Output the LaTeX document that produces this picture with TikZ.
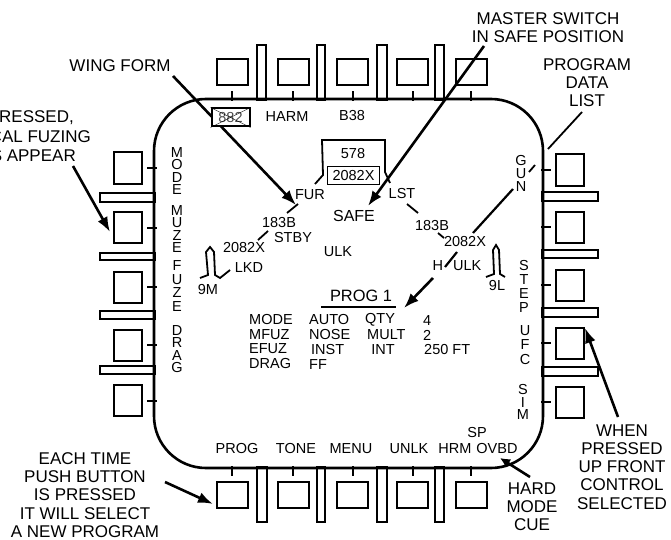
\documentclass[tikz,border=0pt]{standalone}
\usepackage{fontspec}
\setmainfont{Liberation Sans}
\usetikzlibrary{arrows.meta}
\tikzset{
    big/.style={inner sep=0pt, align=center, font=\fontsize{17}{18.2}\selectfont},
    small/.style={inner sep=0pt, font=\fontsize{14.5}{16}\selectfont},
    letters/.style={inner sep=0pt, align=center, font=\fontsize{14.5}{#1}\selectfont},
    btn/.style={draw, line width=2pt, inner sep=0pt},
    hbtn/.style={btn, minimum width=31pt, minimum height=26pt},
    vbtn/.style={btn, minimum width=28pt, minimum height=31pt},
    bar/.style={draw, line width=2pt},
    stub/.style={line width=2pt},
    line/.style={line width=1.8pt},
    pointer/.style={line width=2.6pt, -{Latex[length=15pt,width=11pt]}},
}
\begin{document}
\begin{tikzpicture}[x=1pt, y=-1pt]
    \useasboundingbox (0,0) rectangle (671,540);
    \node[draw, line width=2.6pt, rounded corners=52pt, minimum width=389pt, minimum height=369pt] (screen) at (348.5,283.5) {};

    \node[hbtn] (t1) at (232,72.5) {};
    \node[hbtn] (t2) at (293,72.5) {};
    \node[hbtn] (t3) at (352.5,72.5) {};
    \node[hbtn] (t4) at (412.5,72.5) {};
    \node[hbtn] (t5) at (471,72.5) {};
    \draw[stub] ([yshift=-5pt]t1.south) -- ++(0,10);
    \draw[stub] ([yshift=-5pt]t2.south) -- ++(0,10);
    \draw[stub] ([yshift=-5pt]t3.south) -- ++(0,10);
    \draw[stub] ([yshift=-5pt]t4.south) -- ++(0,10);
    \draw[stub] ([yshift=-5pt]t5.south) -- ++(0,10);
    \draw[bar] (257,45) rectangle (266,100);
    \draw[bar] (317,45) rectangle (325,100);
    \draw[bar] (377,45) rectangle (387,100);
    \draw[bar] (435,45) rectangle (444,100);

    \node[hbtn] (b1) at (232,494.5) {};
    \node[hbtn] (b2) at (293,494.5) {};
    \node[hbtn] (b3) at (352.5,494.5) {};
    \node[hbtn] (b4) at (412.5,494.5) {};
    \node[hbtn] (b5) at (471,494.5) {};
    \draw[stub] ([yshift=5pt]b1.north) -- ++(0,-10);
    \draw[stub] ([yshift=5pt]b2.north) -- ++(0,-10);
    \draw[stub] ([yshift=5pt]b3.north) -- ++(0,-10);
    \draw[stub] ([yshift=5pt]b4.north) -- ++(0,-10);
    \draw[stub] ([yshift=5pt]b5.north) -- ++(0,-10);
    \draw[bar] (257,467) rectangle (267,522);
    \draw[bar] (317,467) rectangle (325,522);
    \draw[bar] (377,467) rectangle (387,522);
    \draw[bar] (435,467) rectangle (444,522);

    \node[vbtn] (l1) at (128,168) {};
    \node[vbtn] (l2) at (128,227.5) {};
    \node[vbtn] (l3) at (128,287) {};
    \node[vbtn] (l4) at (128,345) {};
    \node[vbtn] (l5) at (128,400.5) {};
    \draw[stub] ([xshift=4pt]l1.east) -- ++(10,0);
    \draw[stub] ([xshift=4pt]l2.east) -- ++(10,0);
    \draw[stub] ([xshift=4pt]l3.east) -- ++(10,0);
    \draw[stub] ([xshift=4pt]l4.east) -- ++(10,0);
    \draw[stub] ([xshift=4pt]l5.east) -- ++(10,0);
    \draw[bar] (100,193) rectangle (155,202);
    \draw[bar] (100,253) rectangle (155,260);
    \draw[bar] (100,311) rectangle (155,319);
    \draw[bar] (100,366) rectangle (155,374);

    \node[vbtn] (r1) at (569.5,170) {};
    \node[vbtn] (r2) at (569.5,227) {};
    \node[vbtn] (r3) at (569.5,285) {};
    \node[vbtn] (r4) at (569.5,343) {};
    \node[vbtn] (r5) at (569.5,402) {};
    \draw[stub] ([xshift=-4pt]r1.west) -- ++(-10,0);
    \draw[stub] ([xshift=-4pt]r2.west) -- ++(-10,0);
    \draw[stub] ([xshift=-4pt]r3.west) -- ++(-10,0);
    \draw[stub] ([xshift=-4pt]r4.west) -- ++(-10,0);
    \draw[stub] ([xshift=-4pt]r5.west) -- ++(-10,0);
    \draw[bar] (542,192) rectangle (598,201);
    \draw[bar] (542,250) rectangle (598,258);
    \draw[bar] (542,308) rectangle (598,317);
    \draw[bar] (542,367) rectangle (598,376);

    \node[big] (wing) at (120,66) {WING FORM};
    \node[big] (master) at (548,27.5) {MASTER SWITCH\\IN SAFE POSITION};
    \node[big] (data) at (587,82.5) {PROGRAM\\DATA\\LIST};
    \node[big, anchor=east] (press1) at (74,118) {PRESSED,};
    \node[big, anchor=east] (press2) at (91,137) {CAL FUZING};
    \node[big, anchor=east] (press3) at (76,156) {S APPEAR};
    \node[big] (each) at (85,495) {EACH TIME\\PUSH BUTTON\\IS PRESSED\\IT WILL SELECT\\A NEW PROGRAM};
    \node[big] (when) at (622,467) {WHEN\\PRESSED\\UP FRONT\\CONTROL\\SELECTED};
    \node[big] (hard) at (532,507) {HARD\\MODE\\CUE};

    \node[letters=12.5] (mode) at (177,171) {M\\O\\D\\E};
    \node[letters=12.5] (muze) at (177,229) {M\\U\\Z\\E};
    \node[letters=13.5] (fuze) at (177,286) {F\\U\\Z\\E};
    \node[letters=12.5] (drag) at (177,349) {D\\R\\A\\G};
    \node[letters=13] (gun) at (521,173) {G\\U\\N};
    \node[letters=14] (stepl) at (524,286) {S\\T\\E\\P};
    \node[letters=14.5] (ufc) at (525,345) {U\\F\\C};
    \node[letters=12.5] (sim) at (523,402) {S\\I\\M};

    \node[small] (harm) at (287,117) {HARM};
    \node[small] (b38) at (352,116) {B38};
    \node[small] (c578) at (353,154) {578};
    \node[small] (fur) at (310,195) {FUR};
    \node[small, font=\fontsize{16}{18}\selectfont] (safe) at (354,216) {SAFE};
    \node[small] (lst) at (402,194) {LST};
    \node[small] (n183l) at (279,223) {183B};
    \node[small] (stby) at (293,238) {STBY};
    \node[small] (n2082l) at (244,248) {2082X};
    \node[small] (lkd) at (249,268) {LKD};
    \node[small] (m9) at (208,290) {9M};
    \node[small] (ulk) at (338,252) {ULK};
    \node[small] (n183r) at (432,226) {183B};
    \node[small] (n2082r) at (465,242) {2082X};
    \node[small] (hulk) at (457,266) {H\hspace{6pt} ULK};
    \node[small] (l9) at (497,286) {9L};

    \node[small, font=\fontsize{16.4}{18}\selectfont] (prog) at (361,296) {PROG 1};
    \coordinate (progl) at (321,307);
    \coordinate (progr) at (396,307);
    \draw[line width=2pt] (progl) -- (progr);
    \node[small, anchor=west] (tmode) at (249,320) {MODE};
    \node[small, anchor=west] (tmfuz) at (249,335) {MFUZ};
    \node[small, anchor=west] (tefuz) at (249,349) {EFUZ};
    \node[small, anchor=west] (tdrag) at (249,364) {DRAG};
    \node[small, anchor=west] (tauto) at (309,320) {AUTO};
    \node[small, anchor=west] (tnose) at (309,335) {NOSE};
    \node[small, anchor=west] (tinst) at (311,350) {INST};
    \node[small, anchor=west] (tff) at (309,365) {FF};
    \node[small, anchor=west] (tqty) at (365,320) {QTY};
    \node[small, anchor=west] (tmult) at (367,335) {MULT};
    \node[small] (tint) at (383,350) {INT};
    \node[small, anchor=west] (tfour) at (423,321) {4};
    \node[small, anchor=west] (ttwo) at (423,335) {2};
    \node[small, anchor=west] (tft) at (424,350) {250 FT};

    \node[small] (lprog) at (237,449) {PROG};
    \node[small] (ltone) at (296,449) {TONE};
    \node[small] (lmenu) at (351,449) {MENU};
    \node[small] (lunlk) at (409,449) {UNLK};
    \node[small] (lhrm) at (455,449) {HRM};
    \node[small] (lovbd) at (497,449) {OVBD};
    \node[small] (lsp) at (477,433) {SP};

    \coordinate (a1) at (323,175);
    \coordinate (a2) at (322,140);
    \coordinate (a3) at (385,140);
    \coordinate (a4) at (385,172);
    \coordinate (a5) at (390,183);
    \coordinate (a6) at (315,184);
    \draw[line] (a6) -- (a1) -- (a2) -- (a3) -- (a4) -- (a5);

    \coordinate (w1) at (173,76);
    \coordinate (w2) at (296,205);
    \draw[pointer] (w1) -- (w2);
    \coordinate (w3) at (287,213);
    \coordinate (w4) at (298,204);
    \draw[line] (w3) -- (w4);
    \coordinate (p1) at (73,166);
    \coordinate (p2) at (110,232);
    \draw[pointer] (p1) -- (p2);
    \coordinate (s1) at (484,46);
    \coordinate (s2) at (368,206);
    \draw[pointer] (s1) -- (s2);
    \coordinate (e1) at (165,482);
    \coordinate (e2) at (213,504);
    \draw[pointer] (e1) -- (e2);
    \coordinate (u1) at (618,417);
    \coordinate (u2) at (585,328);
    \draw[pointer] (u1) -- (u2);
    \coordinate (h1) at (530,477);
    \coordinate (h2) at (500,458);
    \draw[line width=2.6pt, -{Latex[length=10pt,width=10pt]}] (h1) -- (h2);

    \coordinate (d1) at (582,112);
    \coordinate (d2) at (548,149);
    \draw[line] (d1) -- (d2);
    \coordinate (g1) at (535,165);
    \coordinate (g2) at (529,172);
    \draw[line] (g1) -- (g2);
    \coordinate (g3) at (513,189);
    \coordinate (g4) at (473,233);
    \draw[line width=2.2pt] (g3) -- (g4);
    \coordinate (g5) at (457,252);
    \coordinate (g6) at (445,267);
    \draw[line width=2.2pt] (g5) -- (g6);
    \coordinate (g7) at (433,278);
    \coordinate (g8) at (404,308);
    \draw[pointer] (g7) -- (g8);

    \coordinate (k1) at (407,204);
    \coordinate (k2) at (418,213);
    \draw[line] (k1) -- (k2);
    \coordinate (k3) at (438,233);
    \coordinate (k4) at (444,238);
    \draw[line] (k3) -- (k4);
    \coordinate (k5) at (258,240);
    \coordinate (k6) at (268,231);
    \draw[line] (k5) -- (k6);

    \node[draw, line width=1.6pt, fill=white, inner sep=0pt, minimum width=52pt, minimum height=18pt] (box) at (353.5,175.5) {};
    \node[small] (n2082b) at (353.5,175.5) {2082X};
    \node[draw, line width=2pt, fill=white, inner sep=0pt, minimum width=38pt, minimum height=18pt] (wpn) at (230.5,117.5) {};
    \node[small, text=black!70] (n882) at (230.5,117.5) {882};
    \draw (wpn.north west) -- (wpn.south east);
    \draw (wpn.south west) -- (wpn.north east);

    \coordinate (c1) at (200,278);
    \coordinate (c2) at (208,275);
    \coordinate (c3) at (206,252);
    \coordinate (c4) at (210,247);
    \coordinate (c5) at (214,252);
    \coordinate (c6) at (215,275);
    \coordinate (c7) at (220,278);
    \coordinate (c8) at (230,270);
    \draw[line] (c1) -- (c2) -- (c3) -- (c4) -- (c5) -- (c6) -- (c7) -- (c8);
    \coordinate (f1) at (486,277);
    \coordinate (f2) at (494,274);
    \coordinate (f3) at (493,250);
    \coordinate (f4) at (496,245);
    \coordinate (f5) at (499,250);
    \coordinate (f6) at (500,274);
    \coordinate (f7) at (505,277);
    \draw[line] (f1) -- (f2) -- (f3) -- (f4) -- (f5) -- (f6) -- (f7);
\end{tikzpicture}
\end{document}
